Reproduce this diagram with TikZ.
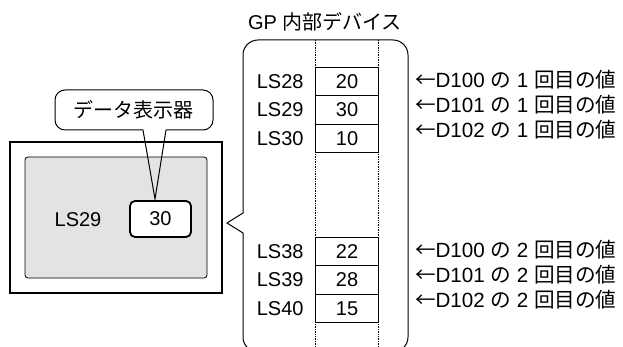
\documentclass[tikz,border=0pt]{standalone}
\usepackage{fontspec}
\setmainfont{Liberation Sans}
\newfontfamily\jp{Noto Sans CJK JP}
\usetikzlibrary{positioning}

\begin{document}
\begin{tikzpicture}[x=1pt,y=-1pt,every node/.style={outer sep=0pt,inner sep=2pt,font=\fontsize{20}{24}\selectfont}]

	\tikzstyle{cell}=[draw,line width=0.8pt,inner sep=0pt,minimum width=63pt,minimum height=28.5pt]
	\tikzstyle{valbox}=[draw,line width=1.8pt,rounded corners=5pt,inner sep=0pt,minimum width=61pt,minimum height=36pt]
	\tikzstyle{note}=[anchor=west,inner sep=0pt,font=\fontsize{20.6}{24}\selectfont]

	\clip (0,0) rectangle (623,347);

	% display unit
	\draw [line width=2.5pt] (10,142) rectangle (222,293);
	\draw [line width=0.8pt,fill=black!11,rounded corners=3pt] (25,157) rectangle (207,278);
	\node (ls) at (78,220) {LS29};
	\node (v30) [valbox,fill=white] at (160.5,219) {30};

	% callout
	\node (disp) at (133,110) {\jp データ表示器};
	\coordinate (tip) at (155,199);
	\draw [line width=1pt,rounded corners=10pt] (166,130) -- (213,130) -- (213,90) -- (55,90) -- (55,130) -- (143,130);
	\draw [line width=1pt] (143,130) -- (tip) -- (166,130);

	% internal device
	\node (gp) at (325,22) {GP {\jp 内部デバイス}};
	\draw [line width=1pt] (243,100) [rounded corners=15pt] -- (243,40) -- (408,40) -- (408,352) -- (243,352) -- (243,300) [sharp corners] -- (243,233) -- (227,223) -- (243,213) -- cycle;
	\draw [densely dotted,line width=0.7pt] (315,40) -- (315,347);
	\draw [densely dotted,line width=0.7pt] (378.5,40) -- (378.5,347);

	\node (c28) [cell] at (347,81.5) {20};
	\node (c29) [cell] at (347,110) {30};
	\node (c30) [cell] at (347,138.5) {10};
	\node (c38) [cell] at (347,251.5) {22};
	\node (c39) [cell] at (347,280) {28};
	\node (c40) [cell] at (347,308.5) {15};
	\draw [line width=1.4pt] (c29.south west) -- (c29.south east);
	\draw [line width=1.4pt] (c39.south west) -- (c39.south east);

	\node (l28) [left=10pt of c28] {LS28};
	\node (l29) [left=10pt of c29] {LS29};
	\node (l30) [left=10pt of c30] {LS30};
	\node (l38) [left=10pt of c38] {LS38};
	\node (l39) [left=10pt of c39] {LS39};
	\node (l40) [left=10pt of c40] {LS40};

	\node (n1) [note] at (415,80) {{\jp ←}D100 {\jp の} 1 {\jp 回目の値}};
	\node (n2) [note] at (415,105) {{\jp ←}D101 {\jp の} 1 {\jp 回目の値}};
	\node (n3) [note] at (415,130) {{\jp ←}D102 {\jp の} 1 {\jp 回目の値}};
	\node (n4) [note] at (415,250) {{\jp ←}D100 {\jp の} 2 {\jp 回目の値}};
	\node (n5) [note] at (415,275) {{\jp ←}D101 {\jp の} 2 {\jp 回目の値}};
	\node (n6) [note] at (415,300) {{\jp ←}D102 {\jp の} 2 {\jp 回目の値}};

\end{tikzpicture}
\end{document}
